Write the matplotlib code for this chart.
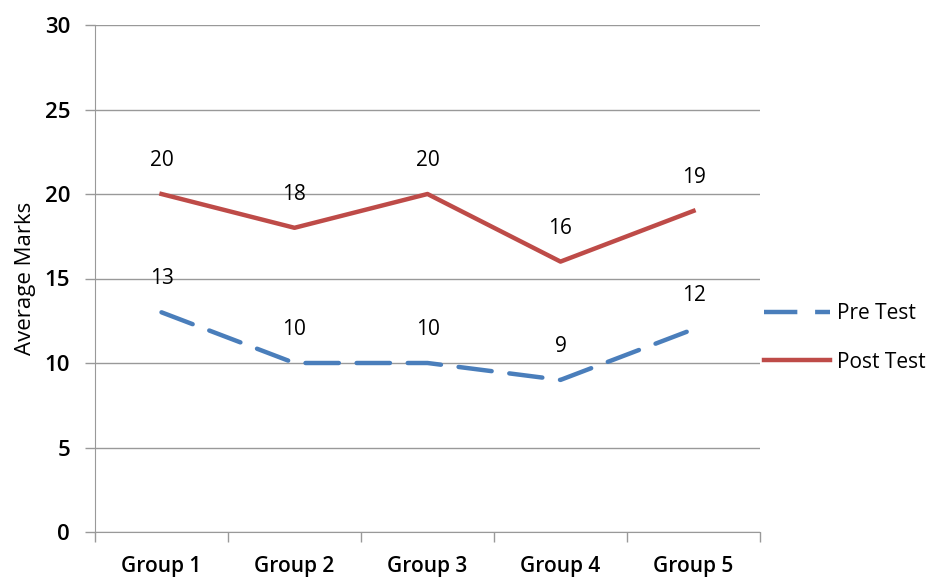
import matplotlib
matplotlib.use("Agg")
import matplotlib.pyplot as plt
from matplotlib.lines import Line2D

groups = ["Group 1", "Group 2", "Group 3", "Group 4", "Group 5"]
pre_test = [13, 10, 10, 9, 12]
post_test = [20, 18, 20, 16, 19]
yticks = [0, 5, 10, 15, 20, 25, 30]

plt.rcParams['font.family'] = ['Open Sans', 'DejaVu Sans']

fig = plt.figure(figsize=(9.34, 5.77), dpi=100)
ax = fig.add_axes([95/934, 45/577, 665/934, 507/577])

x = list(range(len(groups)))
blue = "#4a7ebb"
red = "#be4b48"
ax.plot(x, pre_test, color=blue, lw=3.2, dashes=(7.5, 4), dash_capstyle='round', zorder=3)
ax.plot(x, post_test, color=red, lw=3.2, zorder=3)

for xi, v in zip(x, pre_test):
    ax.annotate(str(v), (xi, v), xytext=(0, 24), textcoords='offset points', ha='center', va='center', fontsize=15, fontweight='medium')
for xi, v in zip(x, post_test):
    ax.annotate(str(v), (xi, v), xytext=(0, 24), textcoords='offset points', ha='center', va='center', fontsize=15, fontweight='medium')

ax.set_xlim(-0.5, 4.5)
ax.set_ylim(0, 30)
ax.set_yticks(yticks)
ax.set_yticklabels([str(t) for t in yticks], fontsize=16, fontweight='semibold')
ax.set_xticks(x)
ax.set_xticklabels(groups, fontsize=15, fontweight='semibold')
ax.tick_params(axis='x', length=0, pad=17)
ax.set_xticks([i - 0.5 for i in range(len(groups) + 1)], minor=True)
ax.tick_params(axis='x', which='minor', length=7, color='#999999', width=1)
ax.tick_params(axis='y', length=7, color='#999999', width=1, pad=11)

ax.grid(axis='y', color='#999999', lw=1)
ax.set_axisbelow(True)
for s in ['top', 'right']:
    ax.spines[s].set_visible(False)
ax.spines['left'].set_color('#999999')
ax.spines['bottom'].set_color('#999999')

ax.set_ylabel("Average Marks", fontsize=16, labelpad=6)

handles = [Line2D([0], [0], color=blue, lw=3.2, dashes=(7.5, 4)),
           Line2D([0], [0], color=red, lw=3.2)]
fig.legend(handles, ["Pre Test", "Post Test"], loc='center left',
           bbox_to_anchor=(745/934, 1 - 338/577), frameon=False, fontsize=15,
           handlelength=3.2, labelspacing=1.3, handletextpad=0.3)

fig.savefig("out.png", dpi=100)
